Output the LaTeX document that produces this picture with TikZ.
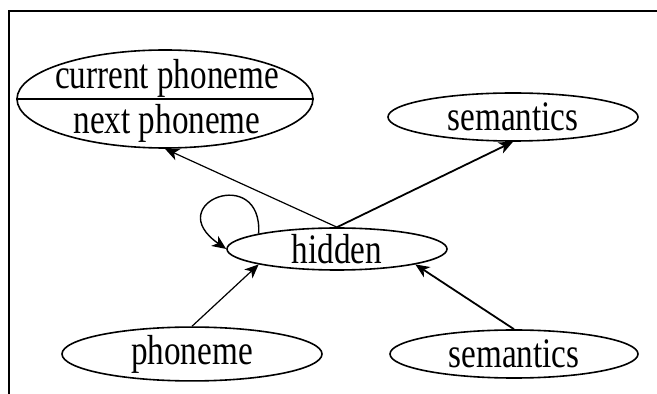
\documentclass[tikz,border=0pt]{standalone}
\usepackage{fontspec}
\setmainfont{Liberation Serif}[FakeStretch=0.79]
\usetikzlibrary{shapes.geometric,arrows.meta}

\begin{document}
\begin{tikzpicture}[x=1pt,y=1pt,
		lbl/.style={font=\fontsize{42}{44}\selectfont,inner sep=0pt},
		unit/.style={ellipse,draw,line width=1.6pt,lbl},
		>={Stealth[length=14pt,width=12pt,inset=4pt]}]
			\useasboundingbox (0,0) rectangle (657,394);
			\draw[line width=1.8pt] (9,0) -- (9,383) -- (657,383);

			\node[unit,minimum width=296,minimum height=98] (outp) at (165,295) {};
			\draw[line width=1.6pt] (outp.west) -- (outp.east);
			\node[lbl,anchor=base] (cur) at (167,305) {current phoneme};
			\node[lbl,anchor=base] (nxt) at (167,260) {next phoneme};

			\node[unit,minimum width=250,minimum height=48] (semout) at (513,277) {semantics};
			\node[unit,minimum width=220,minimum height=42] (hidden) at (337,145) {hidden};
			\node[unit,minimum width=260,minimum height=48] (phon) at (192,40) {phoneme};
			\node[unit,minimum width=248,minimum height=48] (semin) at (514,40) {semantics};

			\path[->,draw,line width=1.2pt] (hidden.north) -- (outp.south);
			\path[->,draw,line width=1.8pt] (hidden.north) -- (semout.south);
			\path[->,draw,line width=1.2pt] (phon.north) -- (hidden.south west);
			\path[->,draw,line width=1.8pt] (semin.north) -- (hidden.south east);
			\path[->,draw,line width=1.4pt] (hidden.north west) .. controls +(4,70) and +(-66,46) .. (hidden.west);
		\end{tikzpicture}
\end{document}
